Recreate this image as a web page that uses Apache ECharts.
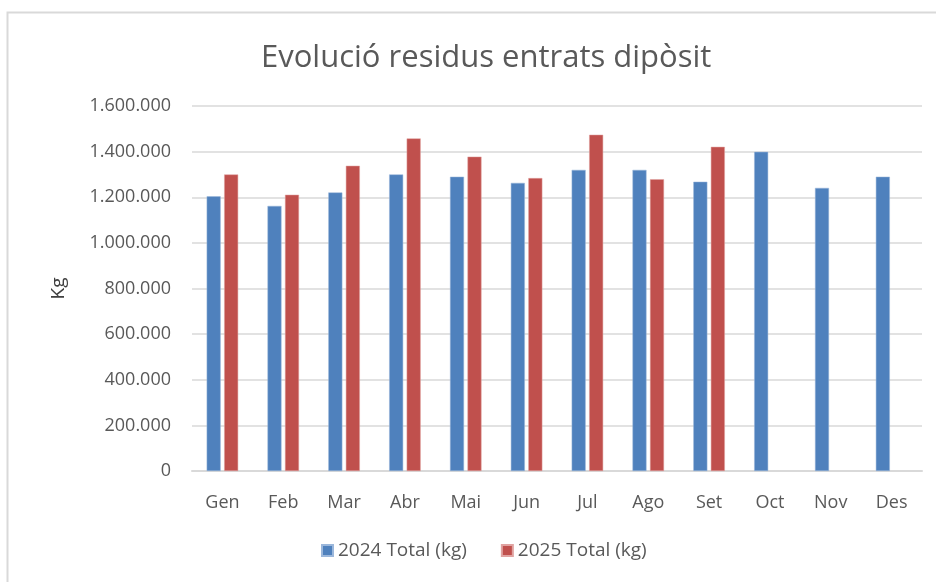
<!DOCTYPE html>
<html>
<head>
<meta charset="utf-8">
<style>
  html, body { margin: 0; padding: 0; background: #fff; }
  #chart { width: 936px; height: 582px; }
</style>
<script src="https://cdn.jsdelivr.net/npm/echarts@6/dist/echarts.min.js"></script>
</head>
<body>
<div id="chart"></div>
<script>
// data
var months = ['Gen', 'Feb', 'Mar', 'Abr', 'Mai', 'Jun', 'Jul', 'Ago', 'Set', 'Oct', 'Nov', 'Des']
var total2024 = [1204000, 1162000, 1221000, 1300000, 1290000, 1263000, 1320000, 1320000, 1268000, 1399000, 1241000, 1290000]
var total2025 = [1300000, 1211000, 1338000, 1458000, 1378000, 1284000, 1474000, 1279000, 1421000, null, null, null]

var textColor = '#595959'
var font = 'Open Sans'

function fmt(v) {
  return String(v).replace(/\B(?=(\d{3})+(?!\d))/g, '.')
}

var chart = echarts.init(document.getElementById('chart'))
chart.setOption({
  animation: false,
  textStyle: { fontFamily: font },
  graphic: [{
    type: 'rect',
    shape: { x: 7.5, y: 12.5, width: 940, height: 580 },
    style: { fill: 'none', stroke: '#d9d9d9', lineWidth: 2 },
    silent: true
  }],
  title: {
    text: 'Evolució residus entrats dipòsit',
    left: 256,
    top: 38,
    textStyle: { color: textColor, fontSize: 31, fontWeight: 'normal', fontFamily: font }
  },
  grid: { left: 192, right: 14, top: 106, bottom: 111, containLabel: false },
  legend: {
    data: ['2024 Total (kg)', '2025 Total (kg)'],
    bottom: 17,
    left: 316,
    itemWidth: 11,
    itemHeight: 11,
    itemGap: 34,
    icon: 'rect',
    textStyle: { color: textColor, fontSize: 19, fontFamily: font }
  },
  xAxis: {
    type: 'category',
    data: months,
    axisLine: { lineStyle: { color: '#d9d9d9', width: 2 } },
    axisTick: { show: false },
    axisLabel: { color: textColor, fontSize: 18, margin: 23 }
  },
  yAxis: {
    type: 'value',
    min: 0,
    max: 1600000,
    interval: 200000,
    name: 'Kg',
    nameLocation: 'middle',
    nameGap: 124,
    nameRotate: 90,
    nameTextStyle: { color: '#404040', fontSize: 19 },
    axisLine: { show: false },
    axisTick: { show: false },
    splitLine: { lineStyle: { color: '#d9d9d9', width: 1.5 } },
    axisLabel: { color: textColor, fontSize: 18, margin: 21, formatter: fmt }
  },
  series: [
    {
      name: '2024 Total (kg)',
      type: 'bar',
      data: total2024,
      barWidth: 14,
      barGap: '25%',
      itemStyle: { color: '#4f81bd', borderColor: '#9bb7db', borderWidth: 0.5 }
    },
    {
      name: '2025 Total (kg)',
      type: 'bar',
      data: total2025,
      barWidth: 14,
      itemStyle: { color: '#c0504d', borderColor: '#e0a3a1', borderWidth: 0.5 }
    }
  ]
})
</script>
</body>
</html>
